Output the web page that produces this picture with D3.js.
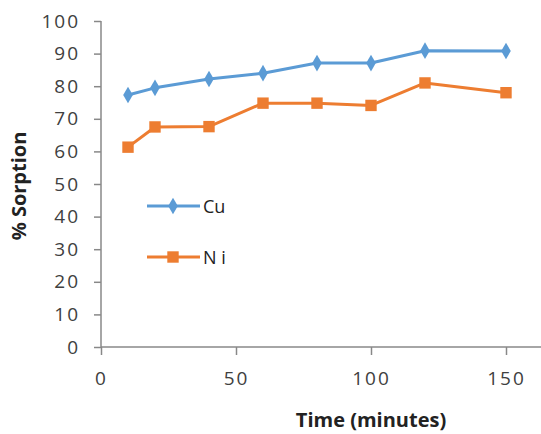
<!DOCTYPE html>
<html><head><meta charset="utf-8">
<script src="https://cdn.jsdelivr.net/npm/d3@7"></script>
<style>body{margin:0;background:#fff}svg{display:block}</style>
</head><body>
<svg id="c" width="541" height="434"></svg>
<script>
const time = [10, 20, 40, 60, 80, 100, 120, 150];
const cu = [77.3, 79.5, 82.2, 84.0, 87.1, 87.1, 90.9, 90.8];
const ni = [61.3, 67.5, 67.6, 74.8, 74.8, 74.1, 81.0, 78.0];
const xTicks = [0, 50, 100, 150];
const yTicks = [0, 10, 20, 30, 40, 50, 60, 70, 80, 90, 100];
const seriesNames = ["Cu", "N i"];

const svg = d3.select("#c");
const x = d3.scaleLinear().domain([0, 150]).range([101, 506]);
const y = d3.scaleLinear().domain([0, 100]).range([347, 21]);
const axisColor = "#888";
const font = "'Open Sans', 'Liberation Sans', sans-serif";

// y axis
const ya = svg.append("g").attr("transform", "translate(101,0)")
  .call(d3.axisLeft(y).tickValues(yTicks).tickSize(7).tickPadding(14));
ya.select(".domain").remove();
ya.selectAll("line").attr("stroke", axisColor).attr("stroke-width", 1.5);
ya.selectAll("text").attr("font-family", font).attr("font-size", 19).attr("fill", "#404040")
  .attr("letter-spacing", 2);
svg.append("line").attr("x1", 101).attr("x2", 101).attr("y1", y(100)).attr("y2", y(0))
  .attr("stroke", axisColor).attr("stroke-width", 1.5);

// x axis
const xa = svg.append("g").attr("transform", "translate(0,347)")
  .call(d3.axisBottom(x).tickValues(xTicks).tickSize(8).tickPadding(17));
xa.select(".domain").remove();
xa.selectAll("line").attr("stroke", axisColor).attr("stroke-width", 1.5);
xa.selectAll("text").attr("font-family", font).attr("font-size", 19).attr("fill", "#404040")
  .attr("letter-spacing", 2);
svg.append("line").attr("x1", 101).attr("x2", 541).attr("y1", 347).attr("y2", 347)
  .attr("stroke", axisColor).attr("stroke-width", 1.5);

// titles
svg.append("text").attr("x", 371).attr("y", 427).attr("text-anchor", "middle")
  .attr("font-family", font).attr("font-weight", "bold").attr("font-size", 20)
  .attr("fill", "#222").text("Time (minutes)");
svg.append("text").attr("transform", "translate(26,186) rotate(-90)").attr("text-anchor", "middle")
  .attr("font-family", font).attr("font-weight", "bold").attr("font-size", 20)
  .attr("fill", "#222").text("% Sorption");

const line = d3.line().x(d => x(d[0])).y(d => y(d[1]));
const colors = ["#5B9BD5", "#ED7D31"];
const data = [cu, ni];

data.forEach((vals, i) => {
  const pts = time.map((t, j) => [t, vals[j]]);
  svg.append("path").datum(pts).attr("d", line).attr("fill", "none")
    .attr("stroke", colors[i]).attr("stroke-width", 3).attr("stroke-linejoin", "round");
  const sym = i === 0 ? d3.symbol().type(d3.symbolDiamond).size(80)
                      : d3.symbol().type(d3.symbolSquare).size(130);
  svg.selectAll(null).data(pts).enter().append("path")
    .attr("d", sym).attr("transform", d => `translate(${x(d[0])},${y(d[1])})`)
    .attr("fill", colors[i]);
});

// legend
const legY = [206, 257];
seriesNames.forEach((name, i) => {
  svg.append("line").attr("x1", 147).attr("x2", 200).attr("y1", legY[i]).attr("y2", legY[i])
    .attr("stroke", colors[i]).attr("stroke-width", 3);
  const sym = i === 0 ? d3.symbol().type(d3.symbolDiamond).size(80)
                      : d3.symbol().type(d3.symbolSquare).size(130);
  svg.append("path").attr("d", sym).attr("transform", `translate(173,${legY[i]})`).attr("fill", colors[i]);
  svg.append("text").attr("x", 203).attr("y", legY[i] + 7).attr("font-family", font)
    .attr("font-size", 18).attr("fill", "#222").text(name);
});
</script>
</body></html>
